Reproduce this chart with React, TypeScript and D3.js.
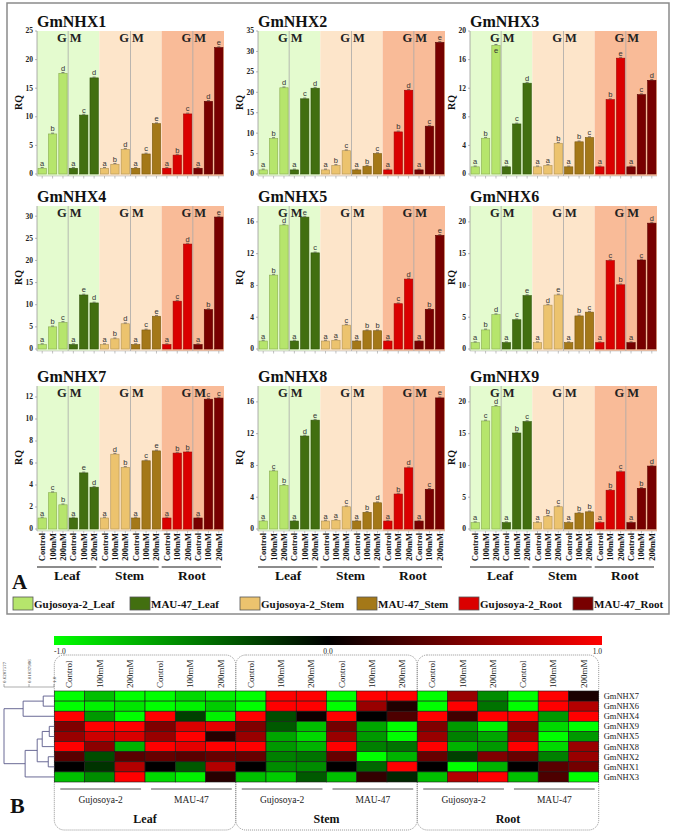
import React from 'react';
import * as d3 from 'd3';

const genes = ['GmNHX1', 'GmNHX2', 'GmNHX3', 'GmNHX4', 'GmNHX5', 'GmNHX6', 'GmNHX7', 'GmNHX8', 'GmNHX9'];
const tissues = ['Leaf', 'Stem', 'Root'];
const cultivars = ['Gujosoya-2', 'MAU-47'];
const treatments = ['Control', '100mM', '200mM'];
const yMaxes = [25, 35, 20, 32.3, 18, 22.5, 13, 18, 22.5];
const yTickSteps = [5, 5, 4, 5, 4, 5, 2, 4, 5];

// order per gene: Leaf G(C,100,200), Leaf M, Stem G, Stem M, Root G, Root M
const rqNHX1 = [1, 7.0, 17.6, 1, 10.3, 16.8, 1, 1.7, 4.3, 1, 3.5, 8.8, 1, 3.3, 10.5, 1, 12.7, 22.1];
const rqNHX2 = [1, 8.7, 21.1, 1, 18.4, 21.0, 1, 2.1, 5.7, 1, 1.9, 5.0, 1, 10.3, 20.5, 1, 11.7, 32.2];
const rqNHX3 = [1, 5.0, 18.0, 1, 7.0, 12.7, 1, 1.2, 4.3, 1, 4.5, 5.1, 1, 10.4, 16.2, 1, 11.1, 13.1];
const rqNHX4 = [1, 5.0, 6.0, 1, 12.2, 10.4, 1, 2.3, 5.7, 1, 4.3, 7.4, 1, 10.8, 23.7, 1, 8.9, 29.8];
const rqNHX5 = [1, 9.3, 15.6, 1, 16.6, 12.1, 1, 1.1, 3.0, 1, 2.3, 2.3, 1, 5.7, 8.8, 1, 5.0, 14.3];
const rqNHX6 = [1, 3.0, 5.4, 1, 4.6, 8.4, 1, 6.9, 8.5, 1, 5.2, 5.8, 1, 13.9, 10.1, 1, 14.0, 19.8];
const rqNHX7 = [1, 3.3, 2.2, 1, 5.1, 3.8, 1, 6.8, 5.6, 1, 6.2, 7.1, 1, 6.9, 7.0, 1, 11.8, 11.9];
const rqNHX8 = [1, 7.3, 5.5, 1, 11.7, 13.7, 1, 1.1, 2.8, 1, 2.1, 3.3, 1, 4.4, 7.7, 1, 5.0, 16.5];
const rqNHX9 = [1, 17.0, 19.3, 1, 15.1, 16.9, 1, 2.0, 3.5, 1, 2.5, 2.7, 1, 6.1, 9.0, 1, 6.4, 9.9];
const rqValues = [rqNHX1, rqNHX2, rqNHX3, rqNHX4, rqNHX5, rqNHX6, rqNHX7, rqNHX8, rqNHX9];

const letNHX1 = 'abdacdabdaceabcade';
const letNHX2 = 'abdacdabcabcabdace';
const letNHX3 = 'abeacdaababcabeacd';
const letNHX4 = 'abcaedabdaceacdabe';
const letNHX5 = 'abdaecaacabbacdabe';
const letNHX6 = 'abdaceadeabcacbacd';
const letNHX7 = 'acbaedadbaceabbacc';
const letNHX8 = 'acbadeaacabdabdace';
const letNHX9 = 'acdabcabcabbabcabd';
const letters = [letNHX1, letNHX2, letNHX3, letNHX4, letNHX5, letNHX6, letNHX7, letNHX8, letNHX9];

const seriesNames = ['Gujosoya-2_Leaf', 'MAU-47_Leaf', 'Gujosoya-2_Stem', 'MAU-47_Stem', 'Gujosoya-2_Root', 'MAU-47_Root'];
const seriesColors = ['#b6e56c', '#426f10', '#ecc36e', '#a47818', '#da0000', '#780000'];
const tissueBg = ['#e4fbcf', '#fde5ca', '#f9bb98'];

// heatmap
const heatRows = ['GmNHX7', 'GmNHX6', 'GmNHX4', 'GmNHX9', 'GmNHX5', 'GmNHX8', 'GmNHX2', 'GmNHX1', 'GmNHX3'];
const heatNHX7 = [-1, -0.75, -1, -1, -0.85, -0.95, -1, 1, 1, -1, 1, 1, -1, 0.6, -0.55, -1, 1, 0.1];
const heatNHX6 = [-1, -0.95, -0.9, -1, -0.95, -0.8, -1, 1, 1, -1, 0.6, 0.12, -1, 1, -0.45, -1, 1, 0.7];
const heatNHX4 = [1, -0.6, -1, 1, -0.25, -0.95, 1, -0.3, 0.05, 1, 0.0, 0.3, 1, 0.25, 1, 1, -0.6, 1];
const heatNHX9 = [0.5, 1, 1, 0.5, 0.85, 0.9, 0.5, -0.35, -0.75, 0.45, -0.65, -1, 0.5, -0.6, -0.95, 0.5, -0.85, -1];
const heatNHX5 = [0.6, 0.8, 0.85, 0.6, 1, 0.15, 0.6, -0.65, -0.85, 0.6, -0.6, -1, 0.6, -0.5, -0.65, 0.6, -1, -0.6];
const heatNHX8 = [1, 0.55, -0.7, 1, 0.9, 1, 1, -0.6, -0.7, 1, -0.5, -0.45, 1, -0.7, -0.6, 1, -0.85, 0.6];
const heatNHX2 = [0.35, -0.3, 0.35, 0.4, 0.35, 0.4, 0.4, -0.5, -0.45, 0.4, -1, -0.7, 0.4, -0.25, 0.5, 0.4, -0.5, 0.6];
const heatNHX1 = [0, -0.2, 0.7, 0, -0.35, 0.7, 0, -0.55, -0.55, 0, -0.4, 1, 0, -1, -0.7, 0, 0.35, 0.45];
const heatNHX3 = [-0.75, -0.55, 1, -0.85, -0.95, 0.15, -0.75, -0.8, -0.35, -0.75, 0.2, -0.15, -0.75, 0.7, 1, -0.75, 0.3, -1];
const heatValues = [heatNHX7, heatNHX6, heatNHX4, heatNHX9, heatNHX5, heatNHX8, heatNHX2, heatNHX1, heatNHX3];
const colorTicks = ['-1.0', '0.0', '1.0'];
const dendroRuler = ['0.6207577', '0.01037986', '1.0'];

type TNode = { h?: number; name?: string; children?: TNode[] };
const dendroTree: TNode = {
  h: 1.0,
  children: [
    { h: 0.62, children: [{ h: 0.22, children: [{ name: 'GmNHX7' }, { name: 'GmNHX6' }] }, { name: 'GmNHX4' }] },
    {
      h: 0.58,
      children: [
        {
          h: 0.34,
          children: [
            { h: 0.24, children: [{ h: 0.1, children: [{ name: 'GmNHX9' }, { name: 'GmNHX5' }] }, { name: 'GmNHX8' }] },
            { h: 0.12, children: [{ name: 'GmNHX2' }, { name: 'GmNHX1' }] },
          ],
        },
        { name: 'GmNHX3' },
      ],
    },
  ],
};

const SERIF = '"Liberation Serif", "DejaVu Serif", serif';
const SANS = '"Liberation Sans", Arial, sans-serif';

function Panel({ gi }: { gi: number }) {
  const col = gi % 3;
  const row = Math.floor(gi / 3);
  const x0 = [37, 258, 470][col];
  const y0 = [174, 349, 529][row];
  const pw = 187;
  const ph = 143;
  const vals = rqValues[gi];
  const lets = letters[gi];
  const x = d3.scaleBand<number>().domain(d3.range(18)).range([x0, x0 + pw]).paddingInner(0.2).paddingOuter(0.1);
  const y = d3.scaleLinear().domain([0, yMaxes[gi]]).range([y0, y0 - ph]);
  const ticks = d3.range(0, yMaxes[gi] + 0.001, yTickSteps[gi]);
  const regW = pw / 3;
  return (
    <g>
      <text x={x0} y={y0 - ph - 4} fontFamily={SERIF} fontWeight="bold" fontSize={16} fill="#111">
        {genes[gi]}
      </text>
      {tissues.map((t, ti) => (
        <g key={t}>
          <rect x={x0 + ti * regW} y={y0 - ph} width={regW} height={ph + 2} fill={tissueBg[ti]} />
          <line x1={x0 + ti * regW + regW / 2} x2={x0 + ti * regW + regW / 2} y1={y0 - ph} y2={y0 + 2} stroke="#a8a8a8" strokeWidth={0.8} />
          <text x={x0 + ti * regW + regW / 2 - 1.5} y={y0 - ph + 10.5} textAnchor="end" fontFamily={SERIF} fontWeight="bold" fontSize={12.5} fill="#222">G</text>
          <text x={x0 + ti * regW + regW / 2 + 1.5} y={y0 - ph + 10.5} fontFamily={SERIF} fontWeight="bold" fontSize={12.5} fill="#222">M</text>
        </g>
      ))}
      <line x1={x0} x2={x0} y1={y0 - ph} y2={y0 + 2} stroke="#999" strokeWidth={0.8} />
      <line x1={x0} x2={x0 + pw} y1={y0 + 2} y2={y0 + 2} stroke="#bbb" strokeWidth={0.6} />
      {ticks.map((t) => (
        <g key={t}>
          <line x1={x0 - 2} x2={x0} y1={y(t)} y2={y(t)} stroke="#888" strokeWidth={0.6} />
          <text x={x0 - 4} y={y(t)} dy="0.33em" textAnchor="end" fontFamily={SERIF} fontWeight="bold" fontSize={7.5} fill="#222">
            {t}
          </text>
        </g>
      ))}
      <text transform={`translate(${x0 - 15},${y0 - ph / 2}) rotate(-90)`} textAnchor="middle" fontFamily={SERIF} fontWeight="bold" fontSize={10} fill="#111">
        RQ
      </text>
      {vals.map((v, i) => {
        const si = Math.floor(i / 3);
        const bx = x(i) as number;
        const bw = x.bandwidth();
        const top = y(v);
        // letter under the "G" label is tucked just inside the bar top when it would collide
        const inside = i % 6 === 2 && top < y0 - ph + 18;
        return (
          <g key={i}>
            <line x1={bx + bw / 2} x2={bx + bw / 2} y1={y0 + 2} y2={y0 + 4.5} stroke="#999" strokeWidth={0.6} />
            <rect x={bx} y={top} width={bw} height={y0 - top} fill={seriesColors[si]} stroke={d3.color(seriesColors[si])!.darker(0.8).toString()} strokeWidth={0.6} />
            <line x1={bx + bw / 2 - 1.5} x2={bx + bw / 2 + 1.5} y1={top - 0.8} y2={top - 0.8} stroke="#333" strokeWidth={0.6} />
            <text x={bx + bw / 2} y={inside ? top + 7.5 : top - 2.5} textAnchor="middle" fontFamily={SANS} fontSize={7.5} fill="#333">
              {lets[i]}
            </text>
          </g>
        );
      })}
      {row === 2 && (
        <g>
          {vals.map((_, i) => {
            const bx = (x(i) as number) + x.bandwidth() / 2;
            return (
              <text key={i} transform={`translate(${bx + 3},${y0 + 4}) rotate(-90)`} textAnchor="end" fontFamily={SERIF} fontWeight="bold" fontSize={8.5} fill="#111">
                {treatments[i % 3]}
              </text>
            );
          })}
          {tissues.map((t, ti) => (
            <g key={t}>
              <line x1={x0 + ti * regW} x2={x0 + (ti + 1) * regW - 3} y1={y0 + 38} y2={y0 + 38} stroke="#666" strokeWidth={1.3} />
              <text x={x0 + ti * regW + regW / 2 - 1} y={y0 + 51} textAnchor="middle" fontFamily={SERIF} fontWeight="bold" fontSize={13.5} fill="#111">
                {t}
              </text>
            </g>
          ))}
        </g>
      )}
    </g>
  );
}

function Heatmap() {
  const hx0 = 54.3;
  const hx1 = 598.7;
  const hy0 = 691;
  const hy1 = 782;
  const x = d3.scaleBand<number>().domain(d3.range(18)).range([hx0, hx1]);
  const y = d3.scaleBand<string>().domain(heatRows).range([hy0, hy1]);
  const color = d3.scaleLinear<string>().domain([-1, 0, 1]).range(['#00ff00', '#000000', '#ff0000']);
  const cbScale = d3.scaleLinear().domain([-1, 1]).range([54, 602]);
  // dendrogram
  const root = d3.hierarchy<TNode>(dendroTree, (d) => d.children);
  const dx = d3.scaleLinear().domain([0, 1]).range([hx0, 4]);
  const leafY = (n: d3.HierarchyNode<TNode>): number => {
    if (!n.children) return (y(n.data.name as string) as number) + y.bandwidth() / 2;
    const ys = n.children.map(leafY);
    return (ys[0] + ys[ys.length - 1]) / 2;
  };
  const nodeX = (n: d3.HierarchyNode<TNode>) => (n.children ? dx(n.data.h as number) : hx0);
  const dpaths: string[] = [];
  root.each((n) => {
    if (n.children) {
      const px = nodeX(n);
      const ys = n.children.map(leafY);
      dpaths.push(`M${px},${ys[0]}V${ys[ys.length - 1]}`);
      n.children.forEach((c, k) => dpaths.push(`M${px},${ys[k]}H${nodeX(c)}`));
    }
  });
  const rulerX = [4, 29, 54];
  const boxW = (hx1 - hx0) / 3;
  return (
    <g>
      <defs>
        <linearGradient id="cbGrad" x1="0" x2="1" y1="0" y2="0">
          <stop offset="0%" stopColor={color(-1)} />
          <stop offset="50%" stopColor={color(0)} />
          <stop offset="100%" stopColor={color(1)} />
        </linearGradient>
      </defs>
      <rect x={cbScale(-1)} y={636} width={cbScale(1) - cbScale(-1)} height={9} fill="url(#cbGrad)" />
      {colorTicks.map((t, i) => (
        <text key={t} x={cbScale(+t)} y={654} textAnchor={i === 0 ? 'start' : i === 2 ? 'end' : 'middle'} fontFamily={SERIF} fontSize={7.5} fill="#222">
          {t}
        </text>
      ))}
      {tissues.map((t, ti) => (
        <g key={t}>
          <rect x={hx0 + ti * boxW} y={655} width={boxW} height={175} rx={10} ry={10} fill="none" stroke="#888" strokeWidth={0.9} strokeDasharray="1,1" />
          {cultivars.map((c, ci) => {
            const cx0 = hx0 + ti * boxW + ci * (boxW / 2);
            return (
              <g key={c}>
                <line x1={cx0 + 6} x2={cx0 + boxW / 2 - 4} y1={789} y2={789} stroke="#555" strokeWidth={1} />
                <text x={cx0 + boxW / 4 + 1} y={803} textAnchor="middle" fontFamily={SERIF} fontSize={9.5} fill="#222">
                  {c}
                </text>
              </g>
            );
          })}
          <text x={hx0 + ti * boxW + boxW / 2} y={823} textAnchor="middle" fontFamily={SERIF} fontWeight="bold" fontSize={12} fill="#111">
            {t}
          </text>
        </g>
      ))}
      {d3.range(18).map((i) => (
        <text key={i} transform={`translate(${(x(i) as number) + x.bandwidth() / 2 + 3},${688}) rotate(-90)`} fontFamily={SERIF} fontSize={9} fill="#222">
          {treatments[i % 3]}
        </text>
      ))}
      {heatRows.map((g, ri) =>
        heatValues[ri].map((v, ci) => (
          <rect key={g + ci} x={x(ci)} y={y(g)} width={x.bandwidth()} height={y.bandwidth()} fill={color(v)} stroke="#1a1a1a" strokeWidth={0.6} />
        ))
      )}
      {heatRows.map((g) => (
        <text key={g} x={hx1 + 5} y={(y(g) as number) + y.bandwidth() / 2} dy="0.35em" fontFamily={SERIF} fontSize={8.5} fill="#222">
          {g}
        </text>
      ))}
      {dpaths.map((p, i) => (
        <path key={i} d={p} fill="none" stroke="#5a5a8a" strokeWidth={0.9} />
      ))}
      <line x1={rulerX[0]} x2={rulerX[2]} y1={687} y2={687} stroke="#777" strokeWidth={0.6} />
      {dendroRuler.map((t, i) => (
        <g key={t}>
          <line x1={rulerX[i]} x2={rulerX[i]} y1={684} y2={687} stroke="#777" strokeWidth={0.6} />
          <text transform={`translate(${rulerX[i] + 2},${683}) rotate(-90)`} fontFamily={SERIF} fontSize={5} fill="#444">
            {t}
          </text>
        </g>
      ))}
      <text x={10} y={813} fontFamily={SERIF} fontWeight="bold" fontSize={22} fill="#111">
        B
      </text>
    </g>
  );
}

export default function App() {
  const legendX = [13, 130, 240, 357, 459, 573];
  return (
    <svg width={676} height={832} style={{ position: 'absolute', left: 0, top: 0, background: '#fff' }}>
      <rect x={0} y={0} width={676} height={832} fill="#fff" />
      <rect x={7} y={3} width={662} height={611} fill="none" stroke="#8a8a8a" strokeWidth={1.5} />
      {genes.map((g, gi) => (
        <Panel key={g} gi={gi} />
      ))}
      <text x={12} y={589} fontFamily={SERIF} fontWeight="bold" fontSize={21} fill="#111">
        A
      </text>
      {seriesNames.map((s, i) => (
        <g key={s}>
          <rect x={legendX[i]} y={597} width={20} height={13} fill={seriesColors[i]} stroke="#555" strokeWidth={0.8} />
          <text x={legendX[i] + 21} y={607.5} fontFamily={SERIF} fontWeight="bold" fontSize={11} fill="#111">
            {s}
          </text>
        </g>
      ))}
      <Heatmap />
    </svg>
  );
}
